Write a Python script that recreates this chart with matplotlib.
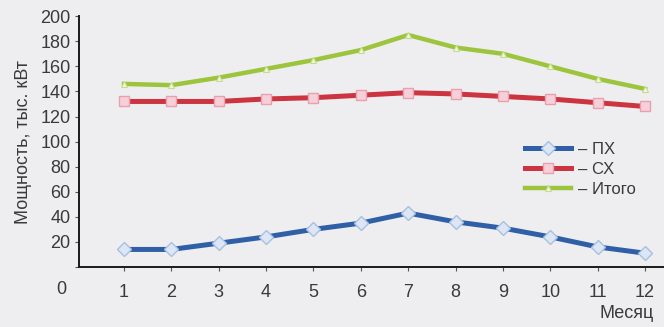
import numpy as np
import matplotlib.pyplot as plt

plt.rcParams['font.family'] = ['Liberation Sans', 'DejaVu Sans']

months = np.arange(1, 13)
px = [14, 14, 19, 24, 30, 35, 43, 36, 31, 24, 16, 11]
sx = [132, 132, 132, 134, 135, 137, 139, 138, 136, 134, 131, 128]
itogo = [146, 145, 151, 158, 165, 173, 185, 175, 170, 160, 150, 142]
yticks = [0, 20, 40, 60, 80, 100, 120, 140, 160, 180, 200]
ylabels = [''] + [str(v) for v in yticks[1:]]

bg = '#eeeef0'
txt = '#3a3a3a'

fig = plt.figure(figsize=(6.64, 3.27), dpi=100, facecolor=bg)
ax = fig.add_axes([0.119, 0.1835, 0.881, 0.767])
ax.set_facecolor(bg)

ax.plot(months, itogo, color='#9cc43c', lw=3.2, marker='^', ms=4,
        mfc='#f2f6e4', mec='#c8dc90', mew=0.8, label='– Итого', zorder=3)
ax.plot(months, sx, color='#cc3440', lw=3.6, marker='s', ms=7,
        mfc='#f6d0d8', mec='#e8a0b0', mew=1.0, label='– СХ', zorder=3)
ax.plot(months, px, color='#2f5fa6', lw=3.6, marker='D', ms=7,
        mfc='#dce6f4', mec='#a8c0e0', mew=1.0, label='– ПХ', zorder=3)

ax.set_xlim(0.05, 12.4)
ax.set_ylim(0, 200)
ax.set_xticks(months)
ax.set_yticks(yticks)
ax.set_yticklabels(ylabels)
ax.tick_params(axis='both', colors='#555555', labelcolor=txt, labelsize=13,
               length=3, width=0.8)
ax.tick_params(axis='x', pad=9)
ax.tick_params(axis='y', pad=3)
for s in ['top', 'right']:
    ax.spines[s].set_visible(False)
for s in ['left', 'bottom']:
    ax.spines[s].set_color('#1a1a1a')
    ax.spines[s].set_linewidth(1.4)

ax.set_ylabel('Мощность, тыс. кВт', fontsize=13, color=txt, labelpad=6)
fig.text(0.093, 0.115, '0', fontsize=13, color=txt, ha='center', va='center')
fig.text(0.903, 0.04, 'Месяц', fontsize=13, color=txt, ha='left', va='center')

handles, labels = ax.get_legend_handles_labels()
order = [2, 1, 0]
ax.legend([handles[i] for i in order], [labels[i] for i in order],
          loc='upper left', bbox_to_anchor=(0.736, 0.56), frameon=False,
          fontsize=12, handlelength=2.8, handletextpad=0.4, labelspacing=0.3,
          labelcolor=txt)

fig.savefig('out.png', dpi=100, facecolor=bg)
